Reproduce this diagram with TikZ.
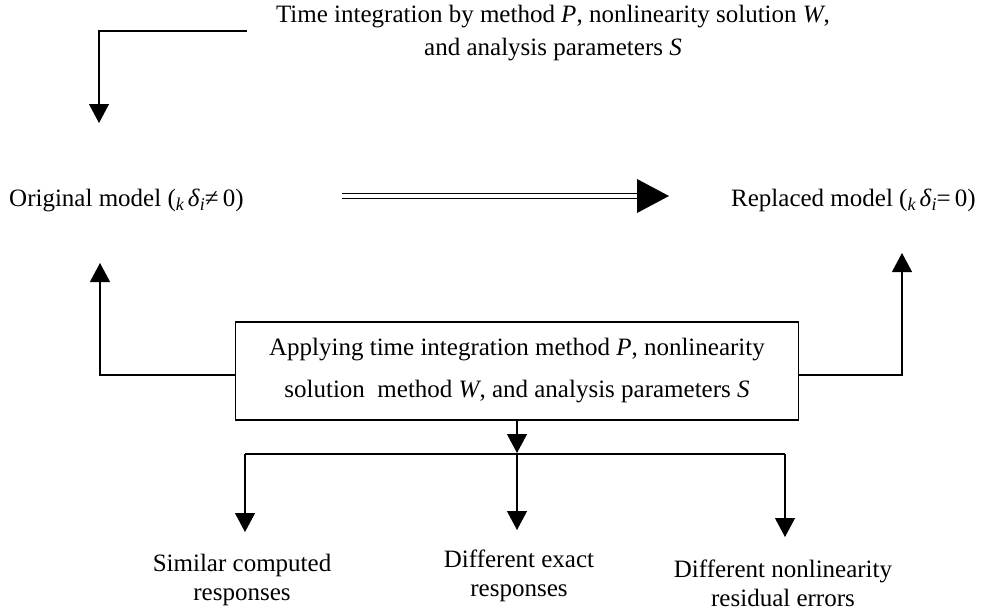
\documentclass[tikz,border=0pt]{standalone}
\usepackage{fontspec}
\setmainfont{Liberation Serif}
\usetikzlibrary{arrows.meta}
\newcommand{\lowidx}[1]{\raisebox{-0.4ex}{\fontsize{18}{18}\selectfont\itshape #1}}
\begin{document}
\begin{tikzpicture}[x=1pt,y=-1pt,
  lbl/.style={font=\fontsize{25}{33}\selectfont, inner sep=0pt, align=center},
  outlbl/.style={font=\fontsize{25}{29}\selectfont, inner sep=0pt, align=center},
  conn/.style={line width=1.2pt, -{Triangle[length=19pt,width=20pt]}},
  plain/.style={line width=1.2pt},
  mainbox/.style={draw, line width=1.2pt, minimum width=563pt, minimum height=98pt,
    inner sep=0pt, align=center, font=\fontsize{25}{42}\selectfont},
  dbl/.style={double, line width=1.4pt, double distance=3.2pt}]
\useasboundingbox (0,0) rectangle (990,613);

% labels
\node[lbl] (top) at (553,33) {Time integration by method \textit{P}, nonlinearity solution \textit{W},\\and analysis parameters \textit{S}};
\node[lbl, anchor=base west] (orig) at (9,206) {Original model (\lowidx{k}\,\textit{δ}\lowidx{i}≠\,0)};
\node[lbl, anchor=base west] (repl) at (731,206) {Replaced model (\lowidx{k}\,\textit{δ}\lowidx{i}=\,0)};
\node[mainbox] (box) at (517,371) {Applying time integration method \textit{P}, nonlinearity\\solution\ \ method \textit{W}, and analysis parameters \textit{S}};
\node[outlbl] (r1) at (242,580) {Similar computed\\responses};
\node[outlbl] (r2) at (519,576) {Different exact\\responses};
\node[outlbl] (r3) at (783,583) {Different nonlinearity\\residual errors};

% anchor points of the connectors
\coordinate (tS) at (247,31);
\coordinate (tE) at (99,123);
\coordinate (lS) at (235.5,375);
\coordinate (lE) at (100,263);
\coordinate (rS) at (798.5,375);
\coordinate (rE) at (902,253);
\coordinate (split) at (517,454);
\coordinate (bL) at (245,454);
\coordinate (bR) at (785,454);
\coordinate (dA) at (342,196);
\coordinate (dB) at (640,196);

% connectors
\draw[conn] (tS) -| (tE);
\draw[conn] (lS) -| (lE);
\draw[conn] (rS) -| (rE);
\draw[conn] (box.south) -- ([yshift=1pt]split);
\draw[plain] (bL) -- (bR);
\draw[conn] (bL) -- (245,532);
\draw[conn] (split) -- (517,530);
\draw[conn] (bR) -- (785,537);

% double arrow from the original to the replaced model
\draw[dbl] (dA) -- (dB);
\fill (637,179) -- (669,196) -- (637,213) -- cycle;
\end{tikzpicture}
\end{document}
